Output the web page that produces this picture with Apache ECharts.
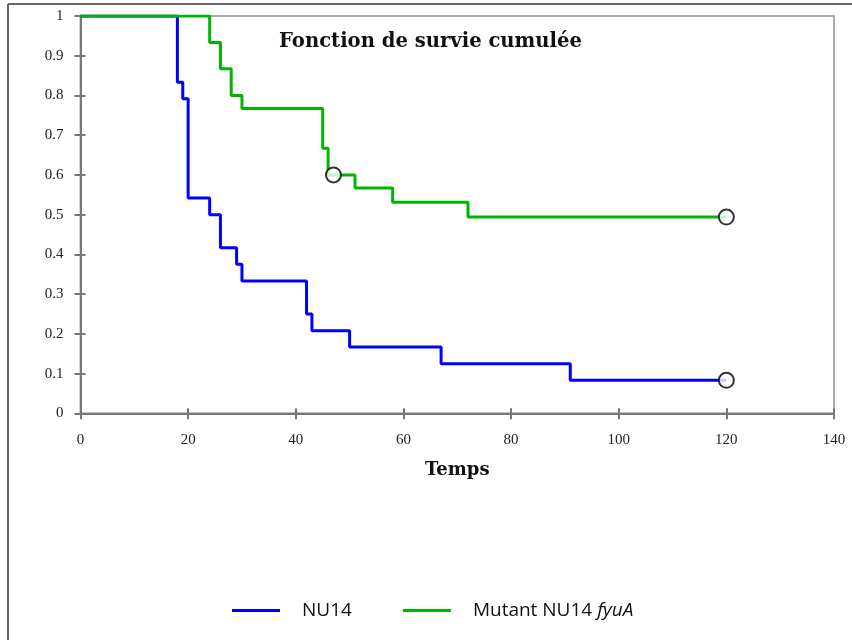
<!DOCTYPE html>
<html>
<head>
<meta charset="utf-8">
<script src="https://cdn.jsdelivr.net/npm/echarts@6/dist/echarts.min.js"></script>
<style>html,body{margin:0;padding:0;background:#fff;}#c{width:852px;height:640px;}</style>
</head>
<body>
<div id="c"></div>
<script>
// Data
var seriesNames = ['NU14', 'Mutant NU14 fyuA'];
var nu14Times = [0, 18, 19, 20, 24, 26, 29, 30, 42, 43, 50, 67, 91, 120];
var nu14Surv  = [1, 0.833, 0.792, 0.542, 0.5, 0.417, 0.375, 0.333, 0.25, 0.208, 0.167, 0.125, 0.083, 0.083];
var mutTimes  = [0, 24, 26, 28, 30, 45, 46, 51, 58, 72, 120];
var mutSurv   = [1, 0.933, 0.867, 0.8, 0.767, 0.667, 0.6, 0.567, 0.531, 0.494, 0.494];
var nu14CensorTimes = [120];
var nu14CensorSurv  = [0.083];
var mutCensorTimes  = [47, 120];
var mutCensorSurv   = [0.6, 0.494];
var xTicks = [0, 20, 40, 60, 80, 100, 120, 140];
var yTicks = [0, 0.1, 0.2, 0.3, 0.4, 0.5, 0.6, 0.7, 0.8, 0.9, 1];

function zip(a, b) { return a.map(function (v, i) { return [v, b[i]]; }); }

var axisGray = '#777';
var chart = echarts.init(document.getElementById('c'));
var option = {
  animation: false,
  backgroundColor: '#fff',
  title: {
    text: 'Fonction de survie cumulée',
    left: 274, top: 27,
    textStyle: { fontFamily: 'DejaVu Serif', fontWeight: 'bold', fontSize: 19.6, color: '#111' }
  },
  grid: { left: 80.5, right: 18, top: 16, bottom: 226.7, show: true, borderColor: '#aaa', borderWidth: 2, backgroundColor: 'transparent' },
  legend: {
    data: seriesNames,
    left: 227, top: 596,
    icon: 'rect', itemWidth: 48, itemHeight: 3, itemGap: 51,
    formatter: function (name) {
      if (name === 'Mutant NU14 fyuA') return 'Mutant NU14 {i|fyuA}';
      return name;
    },
    textStyle: {
      fontFamily: 'Open Sans', fontSize: 19, color: '#111', padding: [0, 0, 0, 17],
      rich: { i: { fontFamily: 'Open Sans', fontSize: 19, fontStyle: 'italic', color: '#111' } }
    }
  },
  xAxis: [{
    type: 'value', min: xTicks[0], max: xTicks[xTicks.length - 1], interval: 20,
    name: 'Temps', nameLocation: 'middle', nameGap: 48,
    nameTextStyle: { fontFamily: 'DejaVu Serif', fontWeight: 'bold', fontSize: 18, color: '#111' },
    axisLine: { show: true, lineStyle: { color: axisGray, width: 2 } },
    axisTick: { show: true, length: 6, lineStyle: { color: axisGray, width: 2 } },
    axisLabel: { margin: 19, fontFamily: 'Liberation Serif', fontSize: 15, color: '#222' },
    splitLine: { show: false }
  }, {
    type: 'value', min: xTicks[0], max: xTicks[xTicks.length - 1], interval: 20, position: 'bottom',
    axisLine: { show: false },
    axisTick: { show: true, inside: true, length: 5, lineStyle: { color: axisGray, width: 2 } },
    axisLabel: { show: false }, splitLine: { show: false }
  }],
  yAxis: [{
    type: 'value', min: 0, max: 1, interval: 0.1,
    axisLine: { show: true, lineStyle: { color: axisGray, width: 2 } },
    axisTick: { show: true, length: 6, lineStyle: { color: axisGray, width: 2 } },
    axisLabel: { margin: 17, fontFamily: 'Liberation Serif', fontSize: 15, color: '#222',
      formatter: function (v) { return String(Math.round(v * 10) / 10); } },
    splitLine: { show: false }
  }, {
    type: 'value', min: 0, max: 1, interval: 0.1, position: 'left',
    axisLine: { show: false },
    axisTick: { show: true, inside: true, length: 5, lineStyle: { color: axisGray, width: 2 } },
    axisLabel: { show: false }, splitLine: { show: false }
  }],
  series: [{
    name: seriesNames[0], type: 'line', step: 'end', data: zip(nu14Times, nu14Surv),
    showSymbol: false, symbol: 'none', color: '#0000ff',
    lineStyle: { color: '#0000ff', width: 3 }, z: 3
  }, {
    name: seriesNames[1], type: 'line', step: 'end', data: zip(mutTimes, mutSurv),
    showSymbol: false, symbol: 'none', color: '#00b400',
    lineStyle: { color: '#00b400', width: 3 }, z: 3
  }, {
    name: 'censorMut', type: 'scatter', data: zip(mutCensorTimes, mutCensorSurv),
    symbol: 'circle', symbolSize: 15,
    itemStyle: { color: '#fff', borderColor: '#000', borderWidth: 2 }, z: 5
  }, {
    name: 'censorNu14', type: 'scatter', data: zip(nu14CensorTimes, nu14CensorSurv),
    symbol: 'circle', symbolSize: 15,
    itemStyle: { color: '#fff', borderColor: '#000', borderWidth: 2 }, z: 5
  }],
  graphic: [
    { type: 'line', shape: { x1: 8, y1: 4, x2: 852, y2: 4 }, style: { stroke: '#666', lineWidth: 2 }, silent: true },
    { type: 'line', shape: { x1: 8, y1: 4, x2: 8, y2: 640 }, style: { stroke: '#666', lineWidth: 2 }, silent: true }
  ]
};
chart.setOption(option);
</script>
</body>
</html>
